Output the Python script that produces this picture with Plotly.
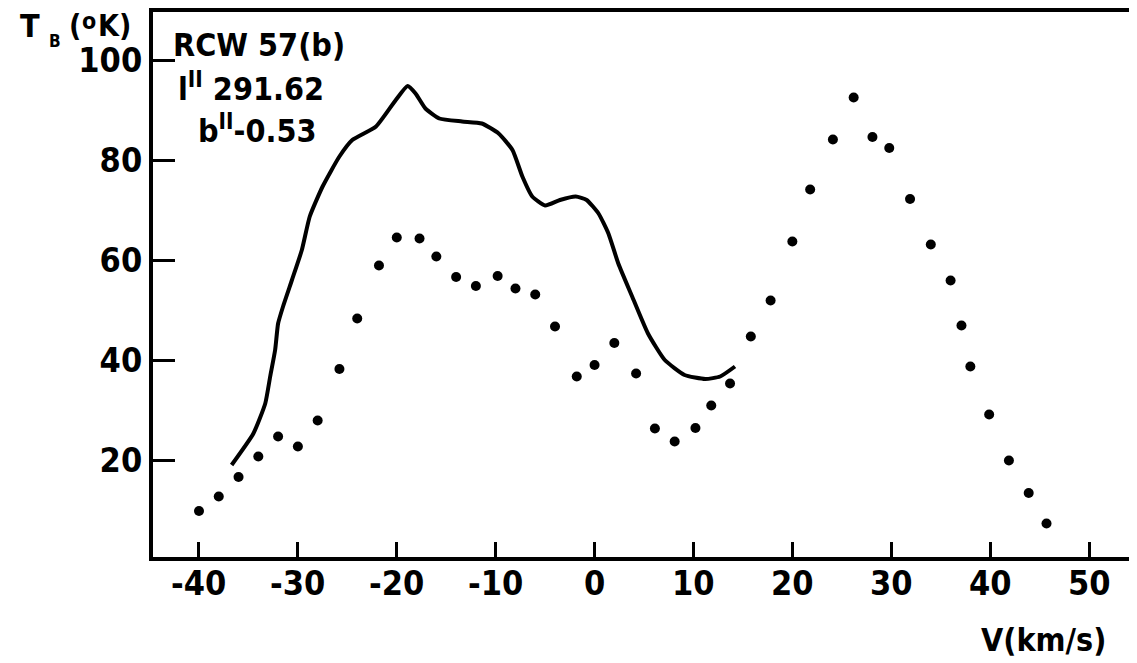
import plotly.graph_objects as go

# Solid curve (brightness temperature profile)
curve_v = [-36.7, -34.5, -33.3, -32.8, -32.3, -32.0, -31.5, -30.6, -29.6, -28.8, -27.5, -25.8,
           -24.5, -22.1, -20.1, -18.9, -18.1, -17.1, -15.7, -13.4, -11.4, -9.7, -8.3, -7.3,
           -6.3, -5.0, -3.5, -1.9, -0.8, 0.4, 1.4, 2.4, 3.8, 5.4, 7.1, 9.1, 11.2, 12.7, 14.2]
curve_t = [19.0, 25.3, 31.3, 36.7, 42.0, 47.3, 50.7, 56.0, 62.0, 68.7, 74.7, 80.7,
           84.0, 86.7, 92.0, 94.8, 93.3, 90.3, 88.3, 87.7, 87.3, 85.3, 82.0, 76.7,
           72.7, 70.9, 72.0, 72.7, 72.0, 69.3, 65.3, 59.3, 52.7, 45.3, 40.0, 37.0, 36.2, 36.7, 38.7]

# Dotted profile
dots_v = [-40, -38, -36, -34, -32, -30, -28, -25.8, -24, -21.8, -20, -17.7, -16, -14, -12,
          -9.8, -8, -6, -4, -1.8, 0, 2, 4.2, 6.1, 8.1, 10.2, 11.8, 13.7, 15.8, 17.8, 20,
          21.8, 24.1, 26.2, 28.1, 29.8, 31.9, 34, 36, 37.1, 38, 39.9, 41.9, 43.9, 45.7]
dots_t = [9.8, 12.7, 16.6, 20.7, 24.7, 22.7, 27.9, 38.2, 48.3, 58.9, 64.5, 64.3, 60.7, 56.6, 54.8,
          56.8, 54.3, 53.1, 46.7, 36.7, 39.0, 43.4, 37.3, 26.3, 23.7, 26.4, 30.9, 35.3, 44.7, 51.9, 63.7,
          74.1, 84.1, 92.5, 84.6, 82.4, 72.2, 63.1, 55.9, 46.9, 38.7, 29.1, 19.9, 13.4, 7.3]

x_ticks = [-40, -30, -20, -10, 0, 10, 20, 30, 40, 50]
x_ticklabels = ["-40", "-30", "-20", "-10", "0", "10", "20", "30", "40", "50"]
y_ticks = [20, 40, 60, 80, 100]
y_ticklabels = ["20", "40", "60", "80", "100"]

FONT = "DejaVu Sans Condensed, Liberation Sans Narrow, sans-serif"

fig = go.Figure()
fig.add_trace(go.Scatter(x=curve_v, y=curve_t, mode="lines",
                         line=dict(color="black", width=4, shape="spline", smoothing=0.5),
                         showlegend=False, hoverinfo="skip"))
fig.add_trace(go.Scatter(x=dots_v, y=dots_t, mode="markers",
                         marker=dict(color="black", size=10),
                         showlegend=False))

fig.update_layout(
    width=1129, height=655,
    margin=dict(l=145, r=0, t=4, b=106),
    paper_bgcolor="white", plot_bgcolor="white",
    font=dict(family=FONT, color="black", size=34, weight="bold"),
    xaxis=dict(range=[-44.65, 54.85], tickvals=x_ticks, showticklabels=False,
               ticks="inside", ticklen=15, tickwidth=3, tickcolor="black",
               showline=True, linewidth=4, linecolor="black", mirror=True,
               showgrid=False, zeroline=False),
    yaxis=dict(range=[0.6, 109.6], tickvals=y_ticks, ticktext=y_ticklabels,
               ticks="inside", ticklen=22, tickwidth=3, tickcolor="black",
               showline=True, linewidth=4, linecolor="black",
               showgrid=False, zeroline=False,
               tickfont=dict(family=FONT, size=34, color="black", weight="bold")),
)

ann = [
    # y-axis title  T_B (°K), built from pieces
    dict(text="T", xref="paper", yref="paper", x=-0.1372, y=0.9743,
         xanchor="left", yanchor="middle", font=dict(size=32)),
    dict(text="B", xref="paper", yref="paper", x=-0.1077, y=0.9468,
         xanchor="left", yanchor="middle", font=dict(size=17)),
    dict(text="(", xref="paper", yref="paper", x=-0.0874, y=0.9761,
         xanchor="left", yanchor="middle", font=dict(size=30)),
    dict(text="o", xref="paper", yref="paper", x=-0.0742, y=0.9835,
         xanchor="left", yanchor="middle", font=dict(size=23)),
    dict(text="K)", xref="paper", yref="paper", x=-0.0575, y=0.9761,
         xanchor="left", yanchor="middle", font=dict(size=30)),
    # source label
    dict(text="RCW 57(b)", xref="x", yref="y", x=-42.8, y=103, xanchor="left", yanchor="middle",
         font=dict(size=32)),
    dict(text="l<sup>II</sup> 291.62", xref="x", yref="y", x=-42.3, y=94.6, xanchor="left",
         yanchor="middle", font=dict(size=32)),
    dict(text="b<sup>II</sup>-0.53", xref="x", yref="y", x=-40.3, y=86.2, xanchor="left",
         yanchor="middle", font=dict(size=32)),
    # x-axis title
    dict(text="V(km/s)", xref="paper", yref="paper", x=0.9705, y=-0.152, xanchor="right",
         yanchor="middle", font=dict(size=32)),
]
for v, t in zip(x_ticks, x_ticklabels):
    ann.append(dict(text=t, xref="x", yref="paper", x=v, y=-0.048, xanchor="center",
                    yanchor="middle", font=dict(size=34)))
for a in ann:
    a["showarrow"] = False
    a["font"]["family"] = FONT
    a["font"]["color"] = "black"
    a["font"]["weight"] = "bold"
fig.update_layout(annotations=ann)

fig.write_html("out.html")
